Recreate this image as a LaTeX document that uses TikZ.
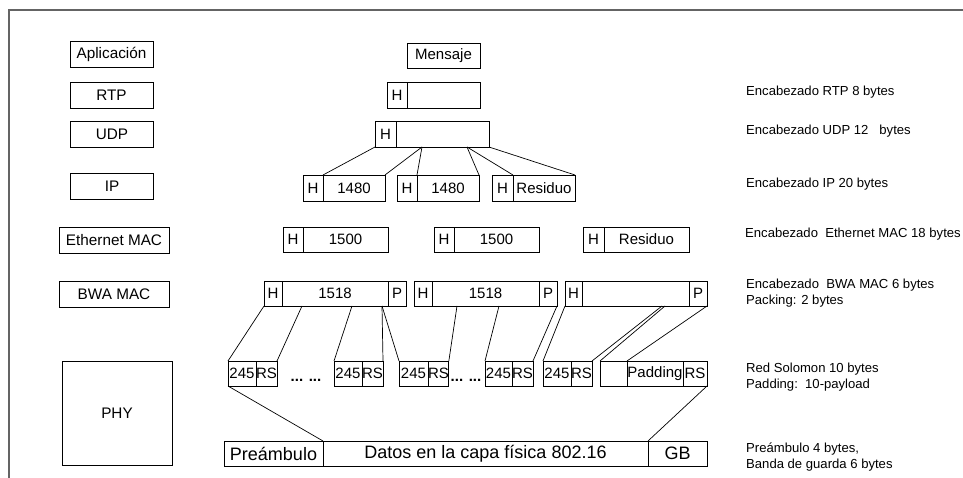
\documentclass[tikz,border=0pt]{standalone}
\usepackage{fontspec}
\setmainfont{Liberation Sans}
\usepackage{xcolor}
\usepackage{tikz}
\usetikzlibrary{positioning, calc}

\definecolor{framegray}{RGB}{100,100,100}

\begin{document}
\begin{tikzpicture}[
    x=1pt, y=-1pt,
    node distance=0pt,
    layer/.style={
        rectangle,
        draw,
        line width=0.8pt,
        minimum width=83pt,
        minimum height=26pt,
        inner sep=0pt,
        font=\fontsize{15.3}{18}\selectfont
    },
    cell/.style={
        rectangle,
        draw,
        line width=0.8pt,
        anchor=north west,
        minimum height=25pt,
        inner sep=0pt,
        outer sep=0pt,
        font=\fontsize{15}{18}\selectfont
    },
    frame/.style={
        cell,
        font=\fontsize{18}{21}\selectfont
    },
    note/.style={
        anchor=west,
        align=left,
        inner sep=0pt,
        font=\fontsize{13.1}{16.5}\selectfont
    },
    link/.style={
        line width=0.7pt
    }
]

\useasboundingbox (0,0) rectangle (963,478);
\draw[framegray, line width=1.6pt] (9,478) -- (9,10) -- (963,10);

\node[layer] (app) at (111.5,54.5) {Aplicación};
\node[layer] (rtp) at (111.5,95) {RTP};
\node[layer] (udp) at (112,134) {UDP};
\node[layer] (ip) at (112,186.5) {IP};
\node[layer, minimum width=110pt] (eth) at (114,240.5) {Ethernet MAC};
\node[layer, minimum width=110pt] (bwa) at (114,294) {BWA MAC};
\node[layer, minimum width=110pt, minimum height=104pt] (phy) at (117,413) {PHY};

\node[cell, minimum width=73pt] (msg) at (407,43) {Mensaje};

\node[cell, minimum width=20pt, minimum height=26pt] (rtpH) at (387,82) {H};
\node[cell, minimum width=73pt, minimum height=26pt, right=of rtpH] (rtpD) {};

\node[cell, minimum width=21pt, minimum height=26pt] (udpH) at (375,121) {H};
\node[cell, minimum width=93pt, minimum height=26pt, right=of udpH] (udpD) {};

\node[cell, minimum width=20pt, minimum height=26pt] (ipaH) at (303,175) {H};
\node[cell, minimum width=62pt, minimum height=26pt, right=of ipaH] (ipaD) {1480};
\node[cell, minimum width=20pt, minimum height=26pt] (ipbH) at (397,175) {H};
\node[cell, minimum width=62pt, minimum height=26pt, right=of ipbH] (ipbD) {1480};
\node[cell, minimum width=21pt, minimum height=26pt] (ipcH) at (492,175) {H};
\node[cell, minimum width=62pt, minimum height=26pt, right=of ipcH] (ipcD) {Residuo};

\node[cell, minimum width=20pt] (ethaH) at (283,227) {H};
\node[cell, minimum width=85pt, right=of ethaH] (ethaD) {1500};
\node[cell, minimum width=20pt] (ethbH) at (434,227) {H};
\node[cell, minimum width=85pt, right=of ethbH] (ethbD) {1500};
\node[cell, minimum width=21pt] (ethcH) at (583,227) {H};
\node[cell, minimum width=85pt, right=of ethcH] (ethcD) {Residuo};

\node[cell, minimum width=18pt] (bwaaH) at (264,281) {H};
\node[cell, minimum width=106pt, right=of bwaaH] (bwaaD) {1518};
\node[cell, minimum width=18pt, right=of bwaaD] (bwaaP) {P};
\node[cell, minimum width=18pt] (bwabH) at (414,281) {H};
\node[cell, minimum width=107pt, right=of bwabH] (bwabD) {1518};
\node[cell, minimum width=18pt, right=of bwabD] (bwabP) {P};
\node[cell, minimum width=17pt] (bwacH) at (565,281) {H};
\node[cell, minimum width=107pt, right=of bwacH] (bwacD) {};
\node[cell, minimum width=18pt, right=of bwacD] (bwacP) {P};

\node[cell, minimum width=28pt] (s1) at (228,361) {245};
\node[cell, minimum width=21pt, right=of s1] (rs1) {RS};
\node[cell, minimum width=28pt] (s2) at (334,361) {245};
\node[cell, minimum width=21pt, right=of s2] (rs2) {RS};
\node[cell, minimum width=29pt] (s3) at (399,361) {245};
\node[cell, minimum width=20pt, right=of s3] (rs3) {RS};
\node[cell, minimum width=27pt] (s4) at (485,361) {245};
\node[cell, minimum width=21pt, right=of s4] (rs4) {RS};
\node[cell, minimum width=28pt] (s5) at (543,361) {245};
\node[cell, minimum width=21pt, right=of s5] (rs5) {RS};
\node[cell, minimum width=27pt] (s6) at (600,361) {};
\node[cell, minimum width=56pt, right=of s6] (pad) {Padding};
\node[cell, minimum width=24pt, right=of pad] (rs6) {RS};

\node[anchor=base, inner sep=0pt, font=\fontsize{15}{18}\selectfont\bfseries] (dotsa) at (306,381) {... ...};
\node[anchor=base, inner sep=0pt, font=\fontsize{15}{18}\selectfont\bfseries] (dotsb) at (466,381) {... ...};

\node[frame, minimum width=99pt] (pre) at (224,441) {Preámbulo};
\node[frame, minimum width=325pt, right=of pre] (datos) {Datos en la capa física 802.16};
\node[frame, minimum width=59pt, right=of datos] (gb) {GB};

\node[note] (nrtp) at (746,92) {Encabezado RTP 8 bytes};
\node[note] (nudp) at (746,131) {Encabezado UDP 12\ \ \ bytes};
\node[note] (nip) at (746,184) {Encabezado IP 20 bytes};
\node[note] (neth) at (745,234) {Encabezado\ \ Ethernet MAC 18 bytes};
\node[note] (nbwa) at (746,293) {Encabezado\ \ BWA MAC 6 bytes\\Packing: 2 bytes};
\node[note] (nrs) at (746,377) {Red Solomon 10 bytes\\Padding:\ \ 10-payload};
\node[note] (npre) at (746,457) {Preámbulo 4 bytes,\\Banda de guarda 6 bytes};

\draw[link] (udpH.south west) -- (ipaH.north east);
\draw[link] ([xshift=26pt]udpD.south west) -- (ipaD.north east);
\draw[link] ([xshift=26pt]udpD.south west) -- (ipbD.north west);
\draw[link] ([xshift=71pt]udpD.south west) -- (ipbD.north east);
\draw[link] ([xshift=71pt]udpD.south west) -- (ipcD.north west);
\draw[link] (udpD.south east) -- (ipcD.north east);

\draw[link] (bwaaH.south west) -- (s1.north west);
\draw[link] ([xshift=20pt]bwaaD.south west) -- (rs1.north east);
\draw[link] ([xshift=70pt]bwaaD.south west) -- (s2.north west);
\draw[link] ([xshift=100pt]bwaaD.south west) -- (rs2.north east);
\draw[link] ([xshift=100pt]bwaaD.south west) -- (s3.north west);
\draw[link] ([xshift=25pt]bwabD.south west) -- (rs3.north east);
\draw[link] ([xshift=67pt]bwabD.south west) -- (s4.north west);
\draw[link] (bwabP.south east) -- (rs4.north east);
\draw[link] (bwacH.south west) -- (s5.north west);
\draw[link] ([xshift=80pt]bwacD.south west) -- (rs5.north east);
\draw[link] ([xshift=83pt]bwacD.south west) -- (s6.north west);
\draw[link] (bwacP.south east) -- (pad.north west);

\draw[link] (s1.south west) -- (pre.north east);
\draw[link] (rs6.south east) -- (gb.north west);

\end{tikzpicture}
\end{document}
